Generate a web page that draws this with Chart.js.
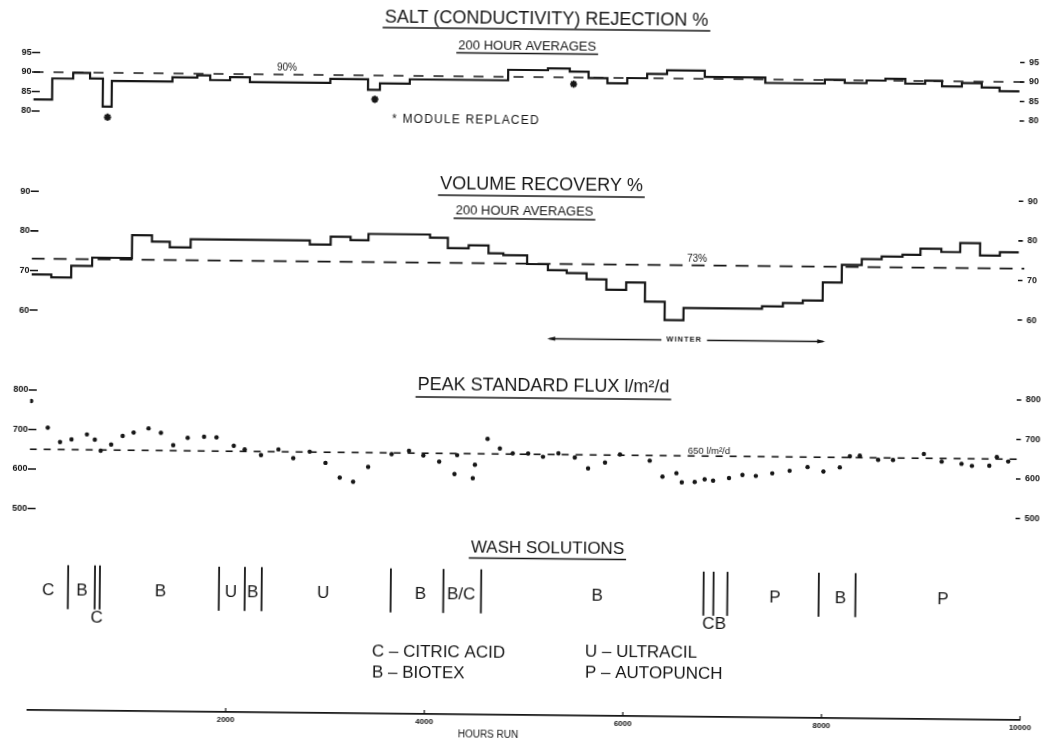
<!DOCTYPE html>
<html>
<head>
<meta charset="utf-8">
<title>Plant performance over hours run</title>
<script src="https://cdn.jsdelivr.net/npm/chart.js@4/dist/chart.umd.min.js"></script>
<style>
  html, body { margin: 0; padding: 0; background: #fff; }
  #sheet {
    position: absolute; left: 0; top: 0; width: 1049px; height: 744px;
    background: #fff;
    transform: rotate(0.58deg); transform-origin: 524.5px 372px;
  }
  #sheet canvas { position: absolute; left: 0; top: 0; }
</style>
</head>
<body>
<div id="sheet">
  <canvas id="salt" width="1049" height="744"></canvas>
  <canvas id="volume" width="1049" height="744"></canvas>
  <canvas id="flux" width="1049" height="744"></canvas>
  <canvas id="wash" width="1049" height="744"></canvas>
</div>
<script>
// ---------- hours run axis ----------
const hourMax = 10000;
const hourTicks = [2000, 4000, 6000, 8000, 10000];

// ---------- salt (conductivity) rejection %, 200 hour averages ----------
const saltStart = [0, 190, 400, 570, 700, 790, 1400, 1650, 1780, 1980, 2180, 2990, 3370, 3490, 3790,
  4780, 5180, 5400, 5590, 5780, 5980, 6180, 6380, 6760, 7370, 7970, 8170, 8390, 8580, 8780, 8980,
  9150, 9350, 9550, 9730];
const saltValue = [83.0, 88.4, 89.9, 88.5, 81.3, 87.9, 89.0, 89.6, 88.4, 89.2, 88.0, 89.0, 86.3, 88.0, 89.1,
  91.8, 92.3, 91.5, 89.9, 88.6, 90.0, 91.1, 92.1, 90.5, 89.1, 90.1, 89.3, 90.0, 90.5, 89.3, 90.1,
  88.7, 89.6, 88.5, 87.6];
const saltEnd = 9930;
const saltTicks = [80, 85, 90, 95];
const saltTarget = 90;
const moduleHours = [750, 3440, 5440];
const moduleMarkLevel = [78.6, 83.9, 88.3];

// ---------- volume recovery %, 200 hour averages ----------
const volumeStart = [0, 200, 400, 610, 1010, 1210, 1390, 1600, 2800, 3010, 3210, 3390, 4010, 4190, 4400,
  4600, 4750, 4990, 5200, 5390, 5590, 5790, 5990, 6180, 6380, 6570, 7360, 7570, 7770, 7970, 8160,
  8360, 8560, 8770, 8950, 9160, 9350, 9550, 9750];
const volumeValue = [69.0, 68.3, 71.3, 73.4, 79.2, 77.6, 76.2, 78.3, 77.3, 79.3, 78.5, 80.1, 79.3, 76.7, 77.5,
  75.5, 75.1, 72.9, 71.4, 70.7, 69.2, 66.6, 68.5, 63.7, 59.1, 62.2, 62.8, 63.7, 64.4, 69.0, 73.5,
  75.0, 75.7, 76.2, 77.8, 77.0, 79.3, 76.2, 77.1];
const volumeEnd = 9940;
const volumeTicks = [60, 70, 80, 90];
const volumeTarget = 73;
const winterFrom = 5200;
const winterTo = 8000;

// ---------- peak standard flux l/m2/d ----------
const fluxHours = [10, 180, 305, 420, 575, 655, 715, 820, 935, 1045, 1195, 1320, 1445, 1590, 1755, 1880,
  2055, 2165, 2330, 2505, 2655, 2820, 2980, 3125, 3260, 3410, 3645, 3820, 3965, 4125, 4280, 4305,
  4465, 4485, 4610, 4735, 4865, 5020, 5170, 5325, 5490, 5625, 5795, 5945, 6245, 6375, 6515, 6570,
  6700, 6800, 6885, 7045, 7180, 7315, 7480, 7655, 7835, 7995, 8160, 8260, 8360, 8545, 8695, 9005,
  9185, 9385, 9490, 9665, 9740, 9855];
const fluxValue = [772, 705, 669, 676, 689, 676, 648, 664, 686, 695, 706, 695, 664, 683, 686, 685,
  664, 655, 641, 656, 634, 651, 623, 586, 576, 614, 647, 656, 644, 629, 598, 646,
  588, 622, 688, 664, 652, 652, 644, 653, 643, 616, 631, 652, 637, 597, 606, 583,
  584, 591, 588, 595, 603, 601, 608, 615, 625, 614, 625, 653, 655, 645, 645, 661,
  642, 637, 632, 633, 655, 644];
const fluxTicks = [500, 600, 700, 800];
const fluxTarget = 650;

// ---------- wash solutions ----------
const washChangeHours = [400, 670, 720, 1920, 2180, 2350, 3650, 4180, 4560, 6800, 6900, 7040, 7960, 8330];
const washLetters = ['C', 'B', 'B', 'U', 'B', 'U', 'B', 'B/C', 'B', 'P', 'B', 'P'];
const washLetterHours = [200, 540, 1330, 2040, 2260, 2970, 3950, 4360, 5730, 7520, 8180, 9210];
const washNoteLetters = ['C', 'CB'];
const washNoteHours = [690, 6910];
const washKey = ['C \u2013 CITRIC ACID', 'B \u2013 BIOTEX', 'U \u2013 ULTRACIL', 'P \u2013 AUTOPUNCH'];

// ---------- drawing style ----------
const INK = '#161616';
const SANS = "'Liberation Sans', Arial, sans-serif";
const TICK_FONT = { family: SANS, size: 9, weight: 'bold' };
const LEFT_W = 30.5;
const RIGHT_W = 25.5;
const WASH_ROW = 0.77;
const WASH_LETTER_ROW = 0.75;
const WASH_NOTE_ROW = 0.58;
const WINTER_LEVEL = 54.1;
const WINTER_LABEL_H = 6580;

// each value holds from its start hour up to the next start
function steps(start, value, end) {
  const pts = start.map((h, i) => ({ x: h, y: value[i] }));
  pts.push({ x: end, y: value[value.length - 1] });
  return pts;
}

function targetLine(v) {
  return [{ x: 0, y: v }, { x: hourMax, y: v }];
}

function text(ctx, str, x, y, size, opts = {}) {
  ctx.save();
  ctx.font = `${opts.weight || 'normal'} ${size}px ${SANS}`;
  ctx.fillStyle = INK;
  ctx.textAlign = opts.align || 'center';
  ctx.textBaseline = 'middle';
  if (opts.spacing) ctx.letterSpacing = opts.spacing + 'px';
  ctx.fillText(str, x, y);
  const w = ctx.measureText(str).width;
  if (opts.underline != null) {
    const x0 = (opts.align === 'left') ? x : x - w / 2;
    ctx.strokeStyle = INK;
    ctx.lineWidth = opts.ulWidth || 1.6;
    ctx.beginPath();
    ctx.moveTo(x0 - 2, opts.underline);
    ctx.lineTo(x0 + w + 2, opts.underline);
    ctx.stroke();
  }
  ctx.restore();
  return w;
}

function notes(id, draw) {
  return { id, afterDraw(chart) { draw(chart.ctx, chart.scales.x, chart.scales.y); } };
}

// short dash beside every value label on both side axes
const tickDashes = {
  id: 'tickDashes',
  afterDraw(chart) {
    const ctx = chart.ctx;
    const { left, right } = chart.chartArea;
    ctx.save();
    ctx.strokeStyle = INK;
    ctx.lineWidth = 1.6;
    ctx.beginPath();
    chart.scales.y.ticks.forEach(t => {
      const py = chart.scales.y.getPixelForValue(t.value);
      ctx.moveTo(left - 1.5, py); ctx.lineTo(left + 6.5, py);
    });
    chart.scales.y2.ticks.forEach(t => {
      const py = chart.scales.y2.getPixelForValue(t.value);
      ctx.moveTo(right - 6.5, py); ctx.lineTo(right - 2, py);
    });
    ctx.stroke();
    ctx.restore();
  },
};

function panelOptions(min, max, ticks, top, bottom) {
  const yBase = {
    min, max,
    afterBuildTicks: s => { s.ticks = ticks.map(v => ({ value: v })); },
    grid: { display: false, drawTicks: false },
    border: { display: false },
  };
  return {
    responsive: false,
    animation: false,
    devicePixelRatio: 1,
    layout: { padding: { top, bottom, left: 0, right: 0 } },
    plugins: { legend: { display: false }, tooltip: { enabled: false } },
    elements: { line: { tension: 0 } },
    scales: {
      x: { type: 'linear', min: 0, max: hourMax, display: false },
      y: Object.assign({}, yBase, {
        position: 'left',
        afterFit: s => { s.width = LEFT_W; },
        ticks: { callback: v => String(v), font: TICK_FONT, color: INK, padding: 2 },
      }),
      y2: Object.assign({}, yBase, {
        position: 'right',
        afterFit: s => { s.width = RIGHT_W; },
        ticks: { callback: v => String(v), font: TICK_FONT, color: INK, padding: 2.5 },
      }),
    },
  };
}

function stepSet(points) {
  return { data: points, stepped: 'before', borderColor: INK, borderWidth: 2.2, pointRadius: 0, fill: false };
}

function dashSet(v, dash) {
  return { data: targetLine(v), borderColor: INK, borderWidth: 1.6, borderDash: dash, pointRadius: 0, fill: false };
}

// ---------- salt rejection panel ----------
new Chart(document.getElementById('salt'), {
  type: 'line',
  data: {
    datasets: [
      stepSet(steps(saltStart, saltValue, saltEnd)),
      dashSet(saltTarget, [10, 10]),
      {
        data: moduleHours.map((h, i) => ({ x: h, y: moduleMarkLevel[i] })),
        showLine: false, pointStyle: 'star', pointRadius: 3.6, borderWidth: 1.9,
        borderColor: INK, backgroundColor: INK, clip: false,
      },
    ],
  },
  options: panelOptions(78, 97, saltTicks, 49.7, 620.2),
  plugins: [tickDashes, notes('saltNotes', (ctx) => {
    text(ctx, 'SALT (CONDUCTIVITY) REJECTION %', 543, 19, 18, { underline: 29 });
    text(ctx, '200 HOUR AVERAGES', 524, 46, 13, { underline: 53.5, ulWidth: 1.3 });
    text(ctx, '90%', 284, 70, 10);
    text(ctx, '* MODULE REPLACED', 389.5, 121, 12, { align: 'left', spacing: 1.2 });
  })],
});

// ---------- volume recovery panel ----------
new Chart(document.getElementById('volume'), {
  type: 'line',
  data: {
    datasets: [
      stepSet(steps(volumeStart, volumeValue, volumeEnd)),
      dashSet(volumeTarget, [13, 9]),
    ],
  },
  options: panelOptions(52, 92, volumeTicks, 188.4, 397.3),
  plugins: [tickDashes, notes('volumeNotes', (ctx, xs, ys) => {
    text(ctx, 'VOLUME RECOVERY %', 539.6, 185.5, 18, { underline: 196 });
    text(ctx, '200 HOUR AVERAGES', 522.9, 211.5, 13, { underline: 219, ulWidth: 1.3 });
    text(ctx, '73%', 695.9, 257.5, 10);

    // winter period arrow
    const y = ys.getPixelForValue(WINTER_LEVEL);
    const x0 = xs.getPixelForValue(winterFrom);
    const x1 = xs.getPixelForValue(winterTo);
    const xm = xs.getPixelForValue(WINTER_LABEL_H);
    const w = text(ctx, 'WINTER', xm, y, 7.5, { weight: 'bold', spacing: 1 });
    ctx.save();
    ctx.strokeStyle = INK; ctx.fillStyle = INK; ctx.lineWidth = 1.5;
    ctx.beginPath();
    ctx.moveTo(x0 + 2, y); ctx.lineTo(xm - w / 2 - 5, y);
    ctx.moveTo(xm + w / 2 + 5, y); ctx.lineTo(x1 - 2, y);
    ctx.stroke();
    ctx.beginPath();
    ctx.moveTo(x0, y); ctx.lineTo(x0 + 8, y - 2.2); ctx.lineTo(x0 + 8, y + 2.2); ctx.closePath();
    ctx.moveTo(x1, y); ctx.lineTo(x1 - 8, y - 2.2); ctx.lineTo(x1 - 8, y + 2.2); ctx.closePath();
    ctx.fill();
    ctx.restore();
  })],
});

// ---------- peak standard flux panel ----------
new Chart(document.getElementById('flux'), {
  type: 'line',
  data: {
    datasets: [
      {
        data: fluxHours.map((h, i) => ({ x: h, y: fluxValue[i] })),
        showLine: false, pointRadius: 2.2, pointBorderWidth: 0,
        pointBackgroundColor: INK, borderColor: INK,
      },
      dashSet(fluxTarget, [7, 7]),
    ],
  },
  options: panelOptions(480, 820, fluxTicks, 387.1, 222.6),
  plugins: [tickDashes, notes('fluxNotes', (ctx) => {
    text(ctx, 'PEAK STANDARD FLUX l/m\u00b2/d', 543.6, 386.5, 18, { underline: 398 });
    text(ctx, '650 l/m\u00b2/d', 688.8, 449.6, 9.5, { align: 'left' });
  })],
});

// ---------- wash solutions and hours run axis ----------
new Chart(document.getElementById('wash'), {
  type: 'line',
  data: {
    datasets: [
      {
        data: washChangeHours.map(h => ({ x: h, y: WASH_ROW })),
        showLine: false, pointStyle: 'line', rotation: 90, pointRadius: 22,
        borderColor: INK, pointBorderWidth: 1.8, clip: false,
      },
    ],
  },
  options: {
    responsive: false,
    animation: false,
    devicePixelRatio: 1,
    layout: { padding: { top: 555, bottom: 0, left: LEFT_W, right: RIGHT_W } },
    plugins: { legend: { display: false }, tooltip: { enabled: false } },
    scales: {
      x: {
        type: 'linear', min: 0, max: hourMax, position: 'bottom',
        afterBuildTicks: s => { s.ticks = hourTicks.map(v => ({ value: v })); },
        afterFit: s => { s.height = 29; },
        grid: { display: true, drawOnChartArea: false, drawTicks: false },
        border: { display: true, color: INK, width: 1.8 },
        ticks: { callback: v => String(v), font: { family: SANS, size: 8, weight: 'bold' },
                 color: INK, padding: 3, maxRotation: 0, autoSkip: false },
      },
      y: { min: 0, max: 1, display: false },
    },
  },
  plugins: [notes('washNotes', (ctx, xs, ys) => {
    text(ctx, 'WASH SOLUTIONS', 549.3, 548.8, 17, { underline: 558.5 });
    const yRow = ys.getPixelForValue(WASH_LETTER_ROW);
    const yNote = ys.getPixelForValue(WASH_NOTE_ROW);
    washLetters.forEach((t, i) => text(ctx, t, xs.getPixelForValue(washLetterHours[i]), yRow, 17));
    washNoteLetters.forEach((t, i) => text(ctx, t, xs.getPixelForValue(washNoteHours[i]), yNote, 17));

    text(ctx, washKey[0], 374.8, 653, 17, { align: 'left' });
    text(ctx, washKey[1], 375, 674, 17, { align: 'left' });
    text(ctx, washKey[2], 587.8, 651, 17, { align: 'left' });
    text(ctx, washKey[3], 588, 672, 17, { align: 'left' });

    // small upward tick marks on the hours axis
    const yb = xs.top;
    ctx.save();
    ctx.strokeStyle = INK; ctx.lineWidth = 1.2;
    ctx.beginPath();
    hourTicks.forEach(v => {
      const x = xs.getPixelForValue(v);
      ctx.moveTo(x, yb); ctx.lineTo(x, yb - 4);
    });
    ctx.stroke();
    ctx.restore();

    text(ctx, 'HOURS RUN', 491.7, 735.4, 10);
  })],
});
</script>
</body>
</html>
